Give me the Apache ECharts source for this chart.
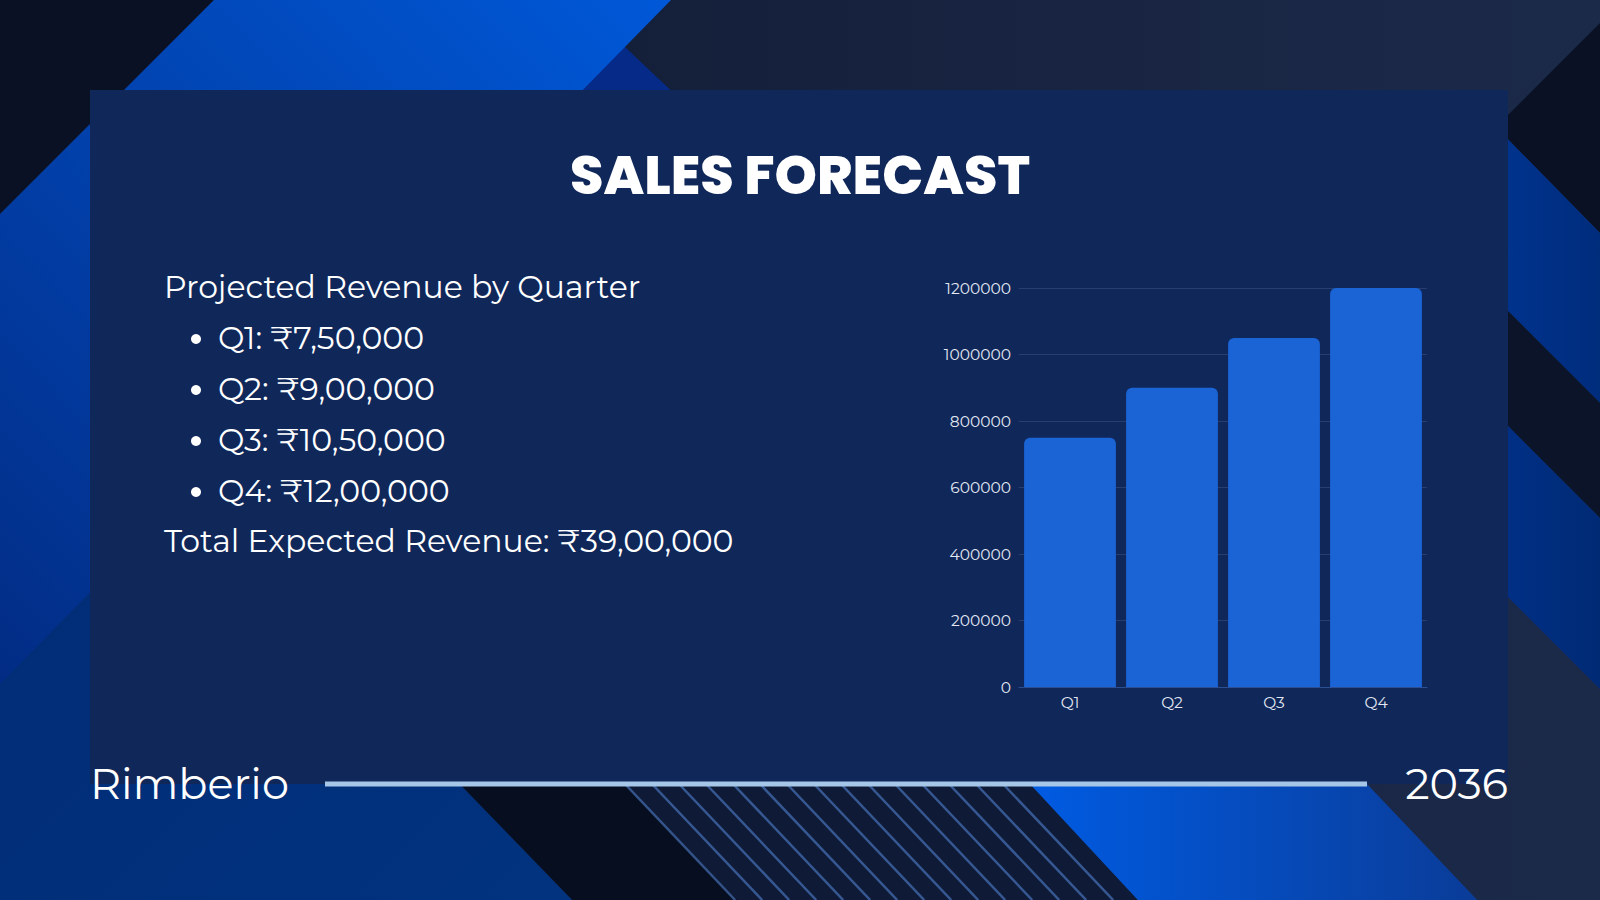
<!DOCTYPE html>
<html>
<head>
<meta charset="utf-8">
<style>
  * { margin: 0; padding: 0; }
  html, body { width: 1600px; height: 900px; overflow: hidden; background: #131e39; }
  #container { width: 1600px; height: 900px; }
</style>
</head>
<body>
<div id="container"></div>
<script src="https://cdn.jsdelivr.net/npm/echarts@6/dist/echarts.min.js"></script>
<script>
    // chart data
    var quarters = ['Q1', 'Q2', 'Q3', 'Q4'];
    var revenue = [750000, 900000, 1050000, 1200000];
    var yMax = 1200000;
    var yStep = 200000;

    // slide texts
    var titleText = 'SALES FORECAST';
    var introText = 'Projected Revenue by Quarter';
    var bulletText = ['Q1: ₹7,50,000', 'Q2: ₹9,00,000', 'Q3: ₹10,50,000', 'Q4: ₹12,00,000'];
    var totalText = 'Total Expected Revenue: ₹39,00,000';
    var brandText = 'Rimberio';
    var yearText = '2036';

    var bodyFont = "'Montserrat', 'Open Sans', 'Noto Sans', sans-serif";
    var titleFont = "'Poppins', 'Open Sans', 'Noto Sans', sans-serif";

    var dom = document.getElementById('container');
    var myChart = echarts.init(dom, null, { renderer: 'svg' });

    function poly(points, fill, z) {
        return { type: 'polygon', silent: true, z: z, shape: { points: points }, style: { fill: fill } };
    }
    function grad(x, y, x2, y2, c1, c2) {
        return new echarts.graphic.LinearGradient(x, y, x2, y2, [
            { offset: 0, color: c1 }, { offset: 1, color: c2 }
        ], false);
    }
    // slanted edge helper for the bottom bands
    function sx(x0, y, k) { return x0 + (y - 784) * k; }

    var bg = [];
    bg.push({ type: 'rect', silent: true, z: -20, shape: { x: 0, y: 0, width: 1600, height: 900 },
        style: { fill: grad(0, 0, 1, 0, '#0f182f', '#1c2a4a') } });
    // top-left
    bg.push(poly([[0, 0], [214, 0], [0, 214]], '#0a1125', -19));
    bg.push(poly([[0, 350], [39, 350], [572, 900], [0, 900]], grad(0, 0, 1, 1, '#022a74', '#01337f'), -19));
    bg.push(poly([[575, 0], [625, 47], [700, 118], [560, 118]], '#052a88', -18));
    bg.push(poly([[214, 0], [671, 0], [0, 684], [0, 214]], grad(1, 0, 0, 1, '#0058d8', '#022c84'), -17));
    // right side
    bg.push(poly([[1496, 127], [1600, 23], [1600, 233]], '#0a1124', -18));
    bg.push(poly([[1490, 121], [1600, 233], [1600, 403], [1490, 293]], grad(0, 0, 1, 0, '#003490', '#002c7c'), -17));
    bg.push(poly([[1490, 293], [1600, 403], [1600, 518], [1490, 408]], '#0b1429', -17));
    bg.push(poly([[1490, 408], [1600, 518], [1600, 689], [1490, 579]], grad(0, 0, 1, 0, '#003088', '#002a74'), -17));
    // bottom
    bg.push(poly([[sx(460, 770, 0.97), 770], [sx(625, 770, 0.97), 770], [sx(625, 900, 0.97), 900], [sx(460, 900, 0.97), 900]], '#070e20', -16));
    bg.push(poly([[sx(625, 770, 0.97), 770], [sx(1030, 770, 0.93), 770], [sx(1030, 900, 0.93), 900], [sx(625, 900, 0.97), 900]], '#0f1a36', -16));
    bg.push(poly([[sx(1030, 770, 0.93), 770], [sx(1367, 770, 0.95), 770], [sx(1367, 900, 0.95), 900], [sx(1030, 900, 0.93), 900]],
        grad(0, 0, 1, 0, '#005ce4', '#0a3c98'), -16));
    for (var i = 0; i < 15; i++) {
        var x0 = 625 + 27 * i;
        bg.push({ type: 'line', silent: true, z: -15,
            shape: { x1: sx(x0, 770, 0.95), y1: 770, x2: sx(x0, 900, 0.95), y2: 900 },
            style: { stroke: 'rgba(88,140,222,0.55)', lineWidth: 2.5 } });
    }
    // panel
    bg.push({ type: 'rect', silent: true, z: -10, shape: { x: 90, y: 90, width: 1418, height: 694 },
        style: { fill: '#10275a' } });

    var texts = [];
    texts.push({ type: 'text', silent: true, z: 10, x: 800, y: 175,
        style: { text: titleText, fill: '#ffffff', font: '800 54px ' + titleFont, align: 'center', verticalAlign: 'middle' } });
    texts.push({ type: 'text', silent: true, z: 10, x: 164, y: 287,
        style: { text: introText, fill: '#ffffff', font: '400 31.5px ' + bodyFont, align: 'left', verticalAlign: 'middle' } });
    bulletText.forEach(function (t, k) {
        var y = 338 + k * 51;
        texts.push({ type: 'circle', silent: true, z: 10, shape: { cx: 196, cy: y + 1, r: 5 }, style: { fill: '#ffffff' } });
        texts.push({ type: 'text', silent: true, z: 10, x: 218, y: y,
            style: { text: t, fill: '#ffffff', font: '400 31.5px ' + bodyFont, align: 'left', verticalAlign: 'middle' } });
    });
    texts.push({ type: 'text', silent: true, z: 10, x: 164, y: 541,
        style: { text: totalText, fill: '#ffffff', font: '400 31.5px ' + bodyFont, align: 'left', verticalAlign: 'middle' } });
    // footer
    texts.push({ type: 'line', silent: true, z: 10, shape: { x1: 325, y1: 784, x2: 1367, y2: 784 },
        style: { stroke: '#a6c6e8', lineWidth: 5 } });
    texts.push({ type: 'text', silent: true, z: 10, x: 90, y: 783,
        style: { text: brandText, fill: '#ffffff', font: '400 43px ' + bodyFont, align: 'left', verticalAlign: 'middle' } });
    texts.push({ type: 'text', silent: true, z: 10, x: 1508, y: 783,
        style: { text: yearText, fill: '#ffffff', font: '400 43px ' + bodyFont, align: 'right', verticalAlign: 'middle' } });

    var option = {
        animation: false,
        graphic: { elements: bg.concat(texts) },
        grid: { left: 1019, top: 288, width: 408, height: 399 },
        xAxis: {
            type: 'category',
            data: quarters,
            axisTick: { show: false },
            axisLine: { show: true, lineStyle: { color: '#2c4f94', width: 1 } },
            axisLabel: { color: '#e2e8f2', fontSize: 15.5, margin: 7, fontFamily: bodyFont }
        },
        yAxis: {
            type: 'value',
            min: 0,
            max: yMax,
            interval: yStep,
            axisLine: { show: false },
            axisTick: { show: false },
            splitLine: { lineStyle: { color: 'rgba(120,150,200,0.22)', width: 1 } },
            axisLabel: {
                color: '#e2e8f2', fontSize: 15.5, margin: 8, fontFamily: bodyFont,
                formatter: function (v) { return String(v); }
            }
        },
        series: [{
            type: 'bar',
            data: revenue,
            barCategoryGap: '10%',
            itemStyle: { color: '#1a64d6', borderRadius: [6, 6, 0, 0] }
        }]
    };

    myChart.setOption(option);
</script>
</body>
</html>
